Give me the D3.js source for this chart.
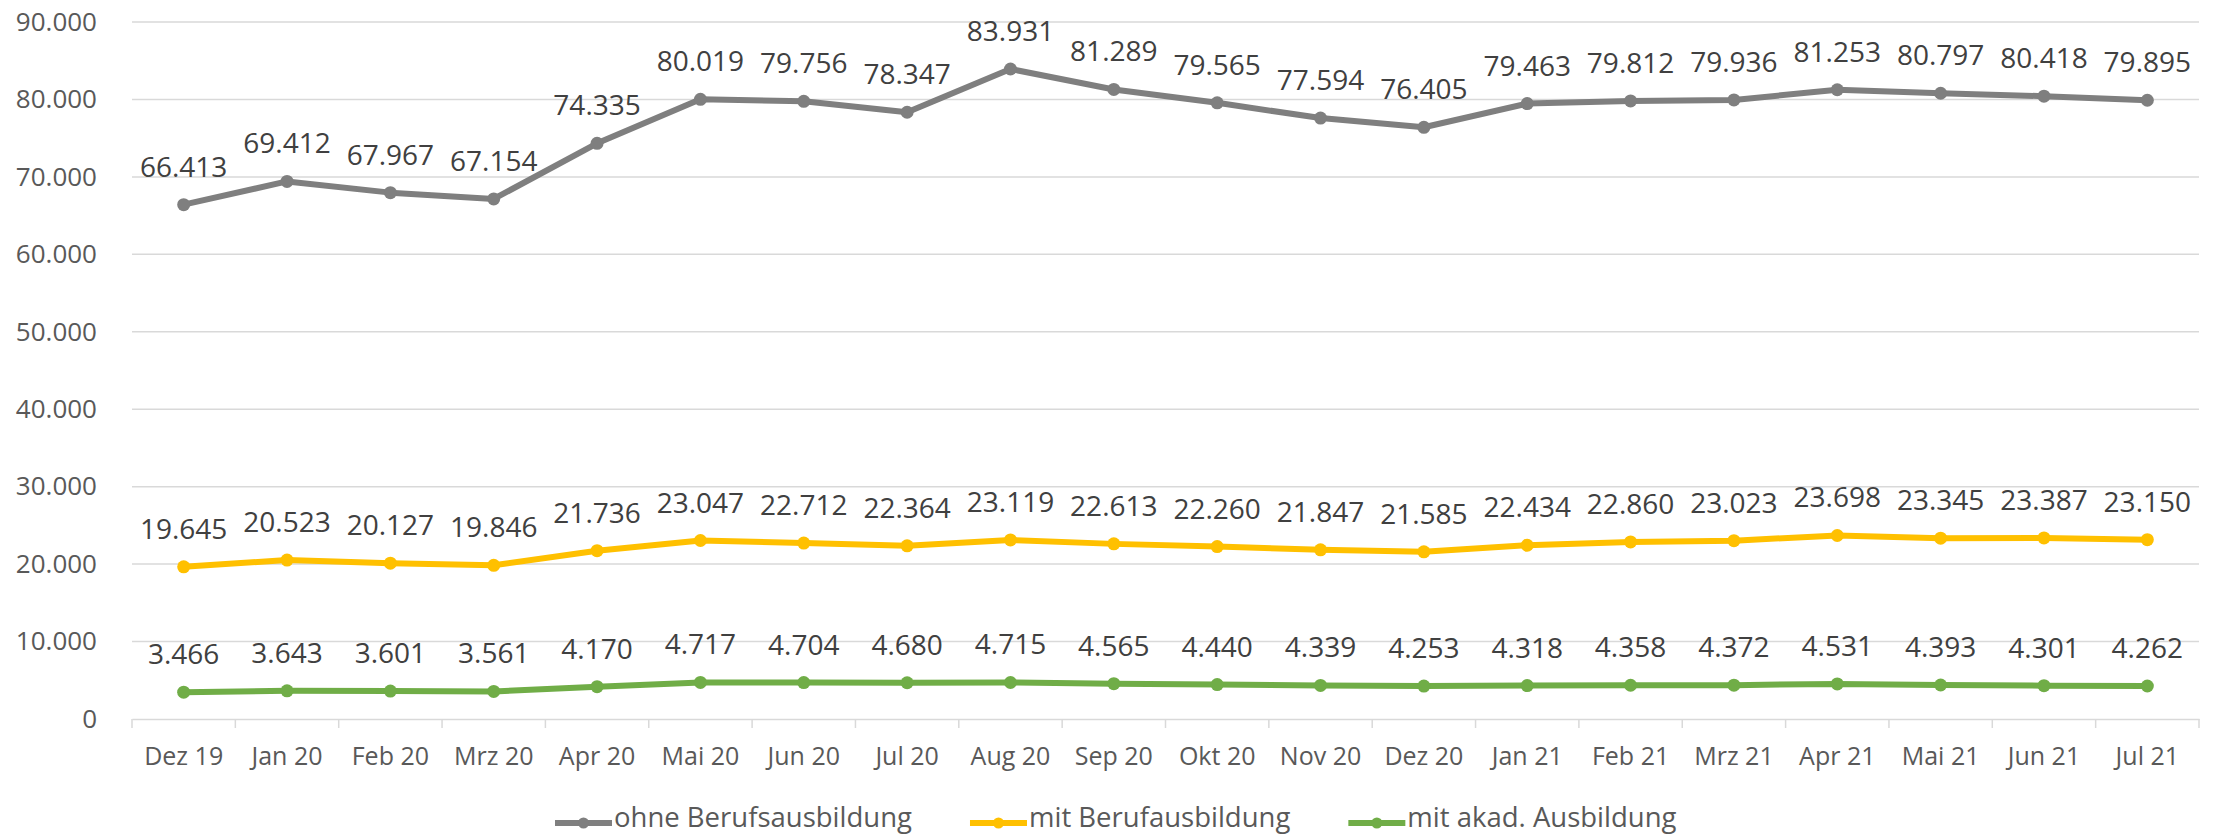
<!DOCTYPE html>
<html>
<head>
<meta charset="utf-8">
<script src="https://d3js.org/d3.v7.min.js"></script>
<style>
body { margin: 0; background: #fff; }
text { font-family: "Open Sans", sans-serif; }
</style>
</head>
<body>
<div id="chart"></div>
<script>
var months = ["Dez 19", "Jan 20", "Feb 20", "Mrz 20", "Apr 20", "Mai 20", "Jun 20", "Jul 20", "Aug 20", "Sep 20",
    "Okt 20", "Nov 20", "Dez 20", "Jan 21", "Feb 21", "Mrz 21", "Apr 21", "Mai 21", "Jun 21", "Jul 21"];

var ohneBeruf = [66413, 69412, 67967, 67154, 74335, 80019, 79756, 78347, 83931, 81289,
    79565, 77594, 76405, 79463, 79812, 79936, 81253, 80797, 80418, 79895];
var mitBeruf = [19645, 20523, 20127, 19846, 21736, 23047, 22712, 22364, 23119, 22613,
    22260, 21847, 21585, 22434, 22860, 23023, 23698, 23345, 23387, 23150];
var mitAkad = [3466, 3643, 3601, 3561, 4170, 4717, 4704, 4680, 4715, 4565,
    4440, 4339, 4253, 4318, 4358, 4372, 4531, 4393, 4301, 4262];

var seriesNames = ["ohne Berufsausbildung", "mit Berufausbildung", "mit akad. Ausbildung"];
var seriesColors = ["#7f7f7f", "#ffc000", "#70ad47"];
var yTicks = [0, 10000, 20000, 30000, 40000, 50000, 60000, 70000, 80000, 90000];

var series = [ohneBeruf, mitBeruf, mitAkad].map(function(v, i) {
    return { name: seriesNames[i], color: seriesColors[i], values: v };
});

// note: "top" is a reserved window property, so use a margin object
var W = 2218, H = 834;
var m = { left: 132, right: 2199, top: 22, bottom: 719 };

var de = d3.formatLocale({ decimal: ",", thousands: ".", grouping: [3], currency: ["", "€"] });
var fmt = de.format(",d");

var svg = d3.select("#chart").append("svg")
    .attr("width", W)
    .attr("height", H);

var x = d3.scaleBand().domain(months).range([m.left, m.right]);
var y = d3.scaleLinear().domain([0, 90000]).range([m.bottom, m.top]);

// gridlines
svg.append("g").selectAll("line")
    .data(yTicks.slice(1))
    .enter().append("line")
    .attr("x1", m.left).attr("x2", m.right)
    .attr("y1", function(d) { return y(d); })
    .attr("y2", function(d) { return y(d); })
    .attr("stroke", "#d9d9d9")
    .attr("stroke-width", 1.5);

// y axis labels
var yAxis = svg.append("g")
    .attr("transform", "translate(" + m.left + ",0)")
    .call(d3.axisLeft(y).tickValues(yTicks).tickFormat(fmt).tickSize(0).tickPadding(35));
yAxis.select(".domain").remove();
yAxis.selectAll("text")
    .attr("fill", "#595959")
    .style("font-size", "26px")
    .style("font-family", "'Open Sans', sans-serif");

// x axis
var xAxis = svg.append("g")
    .attr("transform", "translate(0," + m.bottom + ")")
    .call(d3.axisBottom(x).tickSize(0).tickPadding(28));
xAxis.select(".domain").attr("stroke", "#d9d9d9").attr("stroke-width", 1.5);
xAxis.selectAll("text")
    .attr("fill", "#595959")
    .style("font-size", "25px")
    .style("font-family", "'Open Sans', sans-serif");
xAxis.selectAll(".edge")
    .data(d3.range(months.length + 1))
    .enter().append("line")
    .attr("class", "edge")
    .attr("x1", function(i) { return m.left + i * x.step(); })
    .attr("x2", function(i) { return m.left + i * x.step(); })
    .attr("y1", 0).attr("y2", 9)
    .attr("stroke", "#d9d9d9")
    .attr("stroke-width", 1.5);

var cx = function(d, i) { return x(months[i]) + x.bandwidth() / 2; };

var line = d3.line()
    .x(function(d, i) { return cx(d, i); })
    .y(function(d) { return y(d); });

var g = svg.selectAll(".series")
    .data(series)
    .enter().append("g")
    .attr("class", "series");

g.append("path")
    .attr("d", function(s) { return line(s.values); })
    .attr("fill", "none")
    .attr("stroke", function(s) { return s.color; })
    .attr("stroke-width", 6)
    .attr("stroke-linejoin", "round");

g.each(function(s) {
    var gg = d3.select(this);
    gg.selectAll("circle")
        .data(s.values)
        .enter().append("circle")
        .attr("cx", cx)
        .attr("cy", function(d) { return y(d); })
        .attr("r", 6.5)
        .attr("fill", s.color);
    gg.selectAll("text")
        .data(s.values)
        .enter().append("text")
        .attr("x", cx)
        .attr("y", function(d) { return y(d) - 28; })
        .attr("text-anchor", "middle")
        .attr("fill", "#404040")
        .style("font-size", "28px")
        .text(function(d) { return fmt(d); });
});

// legend, laid out left to right from measured text widths
var ly = 823;
var items = svg.append("g").selectAll("g")
    .data(series)
    .enter().append("g");
items.append("line")
    .attr("x1", 0).attr("x2", 57)
    .attr("y1", 0).attr("y2", 0)
    .attr("stroke", function(s) { return s.color; })
    .attr("stroke-width", 6);
items.append("circle")
    .attr("cx", 28.5).attr("cy", 0).attr("r", 5.5)
    .attr("fill", function(s) { return s.color; });
items.append("text")
    .attr("x", 59).attr("y", 4)
    .attr("fill", "#595959")
    .style("font-size", "27.5px")
    .text(function(s) { return s.name; });

var pos = 555;
items.each(function() {
    var it = d3.select(this);
    it.attr("transform", "translate(" + pos + "," + ly + ")");
    pos += 59 + it.select("text").node().getComputedTextLength() + 58;
});
</script>
</body>
</html>
